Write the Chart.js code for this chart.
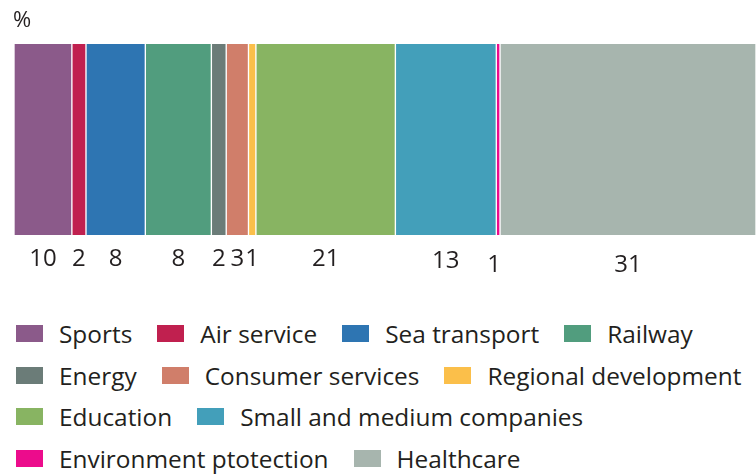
<!DOCTYPE html>
<html>
<head>
<meta charset="utf-8">
<script src="https://cdn.jsdelivr.net/npm/chart.js@4"></script>
<style>
  html, body { margin: 0; padding: 0; background: #ffffff; }
  body { width: 756px; height: 475px; position: relative; overflow: hidden; font-family: "Open Sans", "Noto Sans", sans-serif; color: #231f20; }
  #wrap { position: absolute; left: 0; top: 0; width: 756px; height: 290px; }
  #unit { position: absolute; left: 13px; top: 3px; font-size: 22px; color: #231f20; }
  #legend { position: absolute; left: 16px; top: 313px; width: 740px; display: flex; flex-wrap: wrap; column-gap: 25px; }
  .item { display: inline-flex; align-items: center; height: 41.5px; line-height: 41.5px; font-size: 24.4px; white-space: nowrap; }
  .box { width: 27px; height: 17px; margin-right: 16px; flex: none; }
</style>
</head>
<body>
<div id="wrap"><canvas id="c"></canvas></div>
<div id="unit">%</div>
<div id="legend"></div>
<script>
// Categories (legend order)
const categories = ['Sports', 'Air service', 'Sea transport', 'Railway', 'Energy', 'Consumer services',
  'Regional development', 'Education', 'Small and medium companies', 'Environment ptotection', 'Healthcare'];
// Segment sizes as drawn in the picture (% of bar length)
const shares = [7.8, 1.9, 8.0, 8.9, 2.0, 3.0, 1.0, 18.8, 13.6, 0.5, 34.5];
// Numbers printed under each segment
const printedValues = ['10', '2', '8', '8', '2', '3', '1', '21', '13', '1', '31'];
const colors = ['#8b5a8a', '#c0204f', '#2e75b2', '#519d7e', '#6b7c78', '#d07e6a',
  '#fbbf4a', '#88b462', '#439fba', '#ec0c8c', '#a7b5ae'];

const datasets = categories.map((name, i) => ({
  label: name,
  data: [shares[i]],
  backgroundColor: colors[i],
  borderColor: '#ffffff',
  borderWidth: { left: 1, right: 1, top: 0, bottom: 0 },
  borderSkipped: false,
  barPercentage: 1,
  categoryPercentage: 1
}));

const labelDrop = { 8: 2, 9: 6, 10: 6 };

const valueLabels = {
  id: 'valueLabels',
  afterDatasetsDraw(chart) {
    const ctx = chart.ctx;
    ctx.save();
    ctx.font = '24px "Open Sans", "Noto Sans", sans-serif';
    ctx.fillStyle = '#231f20';
    ctx.textAlign = 'center';
    ctx.textBaseline = 'alphabetic';
    chart.data.datasets.forEach((ds, i) => {
      const el = chart.getDatasetMeta(i).data[0];
      const x = (el.x + el.base) / 2;
      let dx = 0;
      if (i === 9) dx = -4;
      ctx.fillText(printedValues[i], x + dx, chart.chartArea.bottom + 31 + (labelDrop[i] || 0));
    });
    ctx.restore();
  }
};

const chart = new Chart(document.getElementById('c'), {
  type: 'bar',
  data: { labels: [''], datasets },
  options: {
    indexAxis: 'y',
    responsive: true,
    maintainAspectRatio: false,
    animation: false,
    layout: { padding: { left: 14, right: 0, top: 44, bottom: 55 } },
    scales: {
      x: { stacked: true, min: 0, max: 100, display: false },
      y: { stacked: true, display: false }
    },
    plugins: {
      legend: { display: false },
      tooltip: { enabled: false }
    }
  },
  plugins: [valueLabels]
});

// HTML legend from the chart's own legend items
const legendEl = document.getElementById('legend');
chart.options.plugins.legend.labels.generateLabels(chart).forEach(item => {
  const div = document.createElement('div');
  div.className = 'item';
  const box = document.createElement('span');
  box.className = 'box';
  box.style.background = item.fillStyle;
  const txt = document.createElement('span');
  txt.textContent = item.text;
  div.appendChild(box);
  div.appendChild(txt);
  legendEl.appendChild(div);
});
</script>
</body>
</html>
